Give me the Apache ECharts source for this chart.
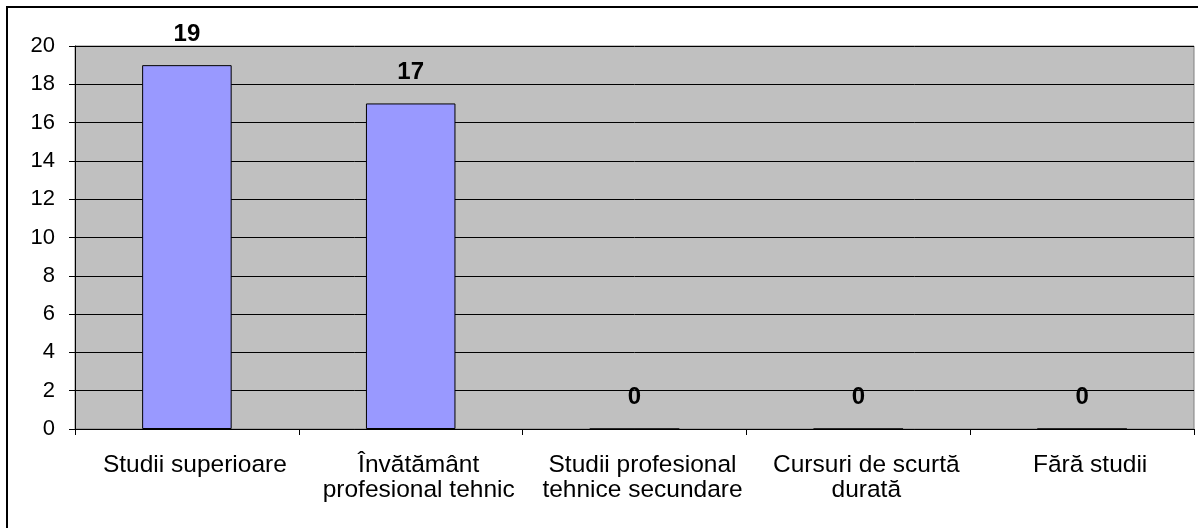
<!DOCTYPE html>
<html><head><meta charset="utf-8">
<script src="https://cdn.jsdelivr.net/npm/echarts@6/dist/echarts.min.js"></script>
<style>html,body{margin:0;padding:0;background:#fff}#c{width:1198px;height:528px}</style>
</head><body><div id="c"></div>
<script>
var categories = ["Studii superioare", "Învătământ\nprofesional tehnic", "Studii profesional\ntehnice secundare", "Cursuri de scurtă\ndurată", "Fără studii"];
var values = [19, 17, 0, 0, 0];
var yTicks = [0, 2, 4, 6, 8, 10, 12, 14, 16, 18, 20];

var chart = echarts.init(document.getElementById('c'), null, {renderer: 'canvas'});
var font = '"Liberation Sans", Arial, sans-serif';
chart.setOption({
  animation: false,
  backgroundColor: '#fff',
  graphic: [{
    type: 'rect', shape: {x: 7, y: 7, width: 1200, height: 540},
    style: {fill: 'none', stroke: '#000', lineWidth: 2}, z: 100
  }],
  grid: {left: 75, top: 46, right: 4, bottom: 99, show: true, backgroundColor: '#c0c0c0', borderColor: '#808080', borderWidth: 1},
  xAxis: {
    type: 'category', data: categories,
    axisLine: {show: true, lineStyle: {color: '#000', width: 1}},
    axisTick: {show: true, alignWithLabel: false, length: 6, lineStyle: {color: '#000'}},
    axisLabel: {color: '#000', fontFamily: font, fontSize: 24.5, lineHeight: 25, margin: 24, interval: 0, padding: [0, 0, 0, 16]},
    splitLine: {show: false}
  },
  yAxis: {
    type: 'value', min: yTicks[0], max: yTicks[yTicks.length - 1], interval: 2,
    axisLine: {show: true, lineStyle: {color: '#000', width: 1}},
    axisTick: {show: true, length: 6, lineStyle: {color: '#000'}},
    axisLabel: {color: '#000', fontFamily: font, fontSize: 22, margin: 20},
    splitLine: {show: true, lineStyle: {color: '#000', width: 1}}
  },
  series: [{
    type: 'bar', data: values, barWidth: '40%',
    itemStyle: {color: '#9999ff', borderColor: '#000', borderWidth: 1},
    label: {show: true, position: 'top', distance: 19, color: '#000', fontFamily: font, fontSize: 24, fontWeight: 'bold'}
  }]
});
</script></body></html>
